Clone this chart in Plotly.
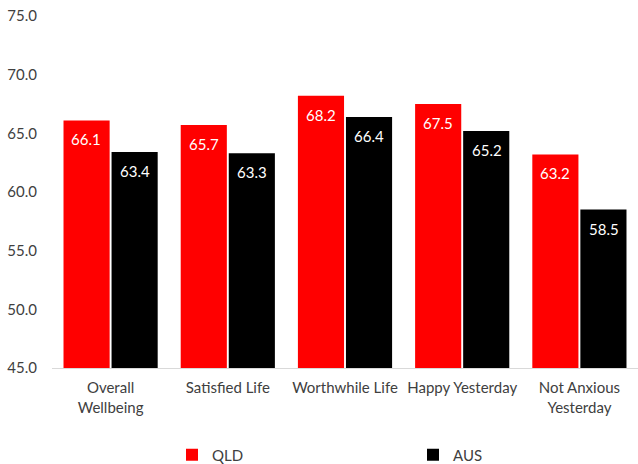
import plotly.graph_objects as go

categories = ["Overall<br>Wellbeing", "Satisfied Life", "Worthwhile Life", "Happy Yesterday", "Not Anxious<br>Yesterday"]
qld = [66.1, 65.7, 68.2, 67.5, 63.2]
aus = [63.4, 63.3, 66.4, 65.2, 58.5]
y_ticks = [45, 50, 55, 60, 65, 70, 75]

font_family = "Lato, Carlito, Calibri, sans-serif"
series = [("QLD", qld, "#FF0000", -24.3), ("AUS", aus, "#000000", 24.3)]

fig = go.Figure()
for name, values, color, _ in series:
    fig.add_trace(go.Bar(
        name=name,
        x=categories,
        y=values,
        marker=dict(color=color, line=dict(width=0)),
    ))

# value labels sitting just below the top of each bar
annotations = []
for name, values, color, shift in series:
    for cat, v in zip(categories, values):
        annotations.append(dict(
            x=cat, y=v, xref="x", yref="y",
            text=f"{v:.1f}",
            showarrow=False,
            xshift=shift,
            yshift=-19,
            yanchor="middle",
            font=dict(color="white", size=15, family=font_family),
        ))

fig.update_layout(
    width=638,
    height=464,
    barmode="group",
    bargap=0.18,
    bargroupgap=0.04,
    plot_bgcolor="white",
    paper_bgcolor="white",
    margin=dict(l=52, r=0, t=16, b=96, autoexpand=False),
    font=dict(family=font_family, size=15, color="#404040"),
    annotations=annotations,
    legend=dict(
        orientation="h",
        xref="container",
        yref="container",
        x=172 / 638,
        xanchor="left",
        y=9 / 464,
        yanchor="middle",
        entrywidth=196,
        itemwidth=30,
        font=dict(size=15, color="#404040"),
    ),
    xaxis=dict(
        showline=True,
        linecolor="#D9D9D9",
        linewidth=1,
        ticks="",
        showgrid=False,
        ticklabelstandoff=6,
        automargin=False,
    ),
    yaxis=dict(
        range=[45, 75],
        tickvals=y_ticks,
        ticktext=[f"{v:.1f}" for v in y_ticks],
        showgrid=False,
        zeroline=False,
        showline=False,
        ticks="",
        ticklabelstandoff=14,
        automargin=False,
    ),
)

fig.write_html("out.html")
